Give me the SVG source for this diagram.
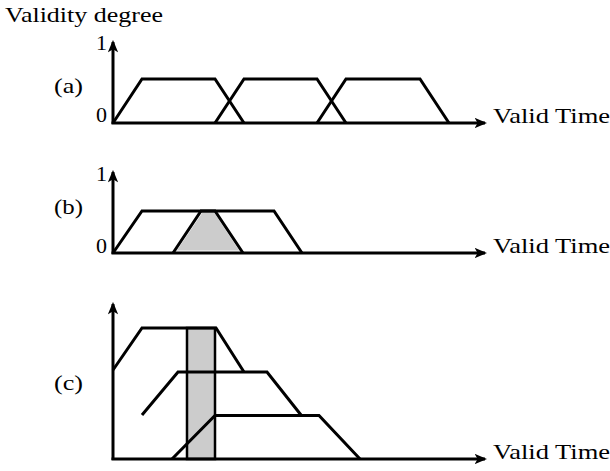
<svg xmlns="http://www.w3.org/2000/svg" width="610" height="471" viewBox="0 0 610 471">
<style>
.ax{stroke:#000;stroke-width:3;fill:none;marker-end:url(#ah)}
.tr{stroke:#000;stroke-width:3;fill:none;stroke-linejoin:miter}
.gr{fill:#cccccc;stroke:#fff;stroke-width:1}
</style>
<defs>
<marker id="ah" viewBox="0 0 12 10" refX="10" refY="5" markerWidth="4.2" markerHeight="3.5" orient="auto" markerUnits="strokeWidth">
<path d="M0,0 L12,5 L0,10 L3,5 Z" fill="#000"/>
</marker>
</defs>
<rect width="610" height="471" fill="#fff"/>
<g font-family="Liberation Serif, serif" font-size="22" font-weight="normal" fill="#000">
<text x="5" y="22" textLength="158" lengthAdjust="spacingAndGlyphs">Validity degree</text>

<g id="panel-a">
<text x="54" y="93" textLength="29" lengthAdjust="spacingAndGlyphs">(a)</text>
<text x="107" y="50" text-anchor="end">1</text>
<text x="107" y="122" text-anchor="end">0</text>
<line class="ax" x1="113" y1="124" x2="113" y2="42"/>
<line class="ax" x1="111.5" y1="123" x2="485" y2="123"/>
<polyline class="tr" points="113,123 142,79 215,79 244,123"/>
<polyline class="tr" points="215,123 244,79 317,79 346,123"/>
<polyline class="tr" points="317,123 346,79 420,79 449,123"/>
<text x="493" y="123" textLength="117" lengthAdjust="spacingAndGlyphs">Valid Time</text>
</g>

<g id="panel-b">
<text x="54" y="214" textLength="29" lengthAdjust="spacingAndGlyphs">(b)</text>
<text x="107" y="181" text-anchor="end">1</text>
<text x="107" y="253" text-anchor="end">0</text>
<polygon class="gr" points="176,251 202,212.5 214.5,212.5 240,251"/>
<line class="ax" x1="113" y1="254" x2="113" y2="172"/>
<line class="ax" x1="111.5" y1="253" x2="485" y2="253"/>
<polyline class="tr" points="113,253 142,211 274,211 302,253"/>
<polyline class="tr" points="173,253 201,211 215,211 243,253"/>
<text x="493" y="253" textLength="117" lengthAdjust="spacingAndGlyphs">Valid Time</text>
</g>

<g id="panel-c">
<text x="54" y="390" textLength="29" lengthAdjust="spacingAndGlyphs">(c)</text>
<rect x="187" y="328" width="28" height="131" fill="#cccccc" stroke="#000" stroke-width="2.5"/>
<line class="ax" x1="113" y1="460" x2="113" y2="304"/>
<line class="ax" x1="111.5" y1="459" x2="485" y2="459"/>
<polyline class="tr" points="113,370 142,328 216,328 244,372"/>
<polyline class="tr" points="142,415 178,372 267,372 301,415"/>
<polyline class="tr" points="172,459 215,415.5 319,415.5 360,459"/>
<text x="493" y="459" textLength="117" lengthAdjust="spacingAndGlyphs">Valid Time</text>
</g>
</g>
</svg>
